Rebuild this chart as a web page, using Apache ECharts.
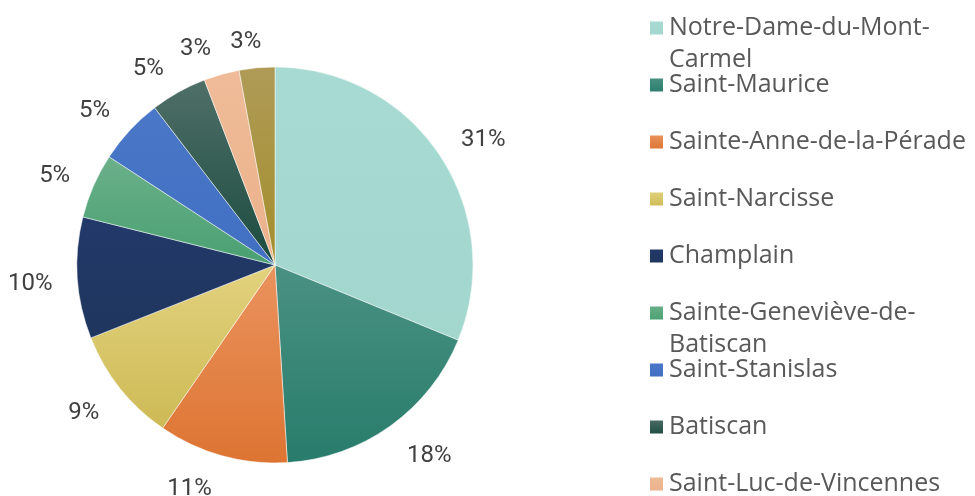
<!DOCTYPE html>
<html>
<head>
<meta charset="utf-8">
<script src="https://cdn.jsdelivr.net/npm/echarts@6/dist/echarts.min.js"></script>
<style>
html,body{margin:0;padding:0;background:#fff;}
#chart{width:975px;height:496px;}
</style>
</head>
<body>
<div id="chart"></div>
<script>
const categories = [
  "Notre-Dame-du-Mont-Carmel",
  "Saint-Maurice",
  "Sainte-Anne-de-la-Pérade",
  "Saint-Narcisse",
  "Champlain",
  "Sainte-Geneviève-de-Batiscan",
  "Saint-Stanislas",
  "Batiscan",
  "Saint-Luc-de-Vincennes",
  "Saint-Prosper-de-Champlain"
];
const values = [31.2, 17.8, 10.6, 9.4, 9.9, 5.3, 5.4, 4.6, 2.9, 2.9];
const topColors = ["#A7DAD2", "#4A9183", "#EA935E", "#E3D27F", "#22396A", "#6BB08A", "#4A77C7", "#4F6F67", "#EFBB98", "#AF9B57"];
const bottomColors = ["#A2D7CE", "#287C6B", "#DD7432", "#CDBA55", "#1F365E", "#49A071", "#416FC2", "#1B4B3F", "#EBB28B", "#A38E2B"];

function grad(i) {
  return new echarts.graphic.LinearGradient(0, 0, 0, 1, [
    { offset: 0, color: topColors[i] },
    { offset: 1, color: bottomColors[i] }
  ]);
}

// direction of each slice's mid-angle (used for Excel-like label placement)
const total = values.reduce((a, b) => a + b, 0);
let cum = 0;
const midDir = values.map(v => {
  const mid = (cum + v / 2) / total * 2 * Math.PI;
  cum += v;
  return [Math.sin(mid), -Math.cos(mid)];
});

const chart = echarts.init(document.getElementById('chart'), null, { renderer: 'canvas' });
const LABEL_FONT = 'Roboto, "Noto Sans", sans-serif';
const LEGEND_FONT = '"Open Sans", Roboto, sans-serif';

chart.setOption({
  animation: false,
  backgroundColor: '#ffffff',
  legend: {
    orient: 'vertical',
    left: 648,
    top: -20,
    height: 900,
    padding: 0,
    itemWidth: 15,
    itemHeight: 15,
    itemGap: -39,
    icon: 'rect',
    data: categories,
    textStyle: { fontFamily: LEGEND_FONT, fontSize: 25, color: '#595959', lineHeight: 32 },
    formatter: function (name) {
      if (name.length > 24) {
        const k = name.lastIndexOf('-');
        return '\n' + name.slice(0, k + 1) + '\n' + name.slice(k + 1);
      }
      return '\n' + name + '\n';
    }
  },
  series: [{
    type: 'pie',
    center: [275, 265],
    radius: 198,
    startAngle: 90,
    clockwise: true,
    avoidLabelOverlap: false,
    data: categories.map((c, i) => ({
      name: c,
      value: values[i],
      itemStyle: { color: grad(i) }
    })),
    itemStyle: { borderColor: '#ffffff', borderWidth: 0.5 },
    label: {
      show: true,
      position: 'outside',
      fontFamily: LABEL_FONT,
      fontSize: 24,
      color: '#404040',
      formatter: function (p) { return Math.round(p.percent) + '%'; }
    },
    labelLine: { show: false, length: 20, length2: 0 },
    labelLayout: function (params) {
      const d = midDir[params.dataIndex];
      const dy = Math.max(-6, Math.min(14, 4 + 14 * d[1]));
      const w = params.labelRect ? params.labelRect.width : 30;
      const dx = -Math.sign(d[0]) * (w / 2 + 5) * Math.max(0, 1 - Math.abs(d[0]) / 0.2);
      return { dx: dx, dy: dy, hideOverlap: false };
    },
    emphasis: { disabled: true }
  }]
});
</script>
</body>
</html>
